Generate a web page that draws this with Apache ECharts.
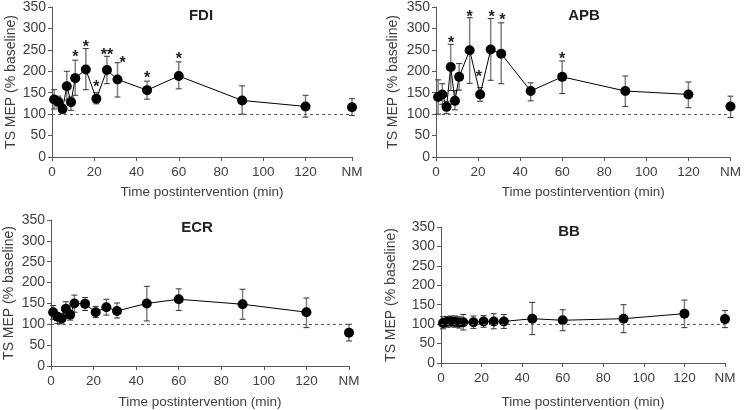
<!DOCTYPE html>
<html>
<head>
<meta charset="utf-8">
<script src="https://cdn.jsdelivr.net/npm/echarts@6/dist/echarts.min.js"></script>
<style>
  html, body { margin: 0; padding: 0; background: #fff; }
  #chart { width: 744px; height: 410px; }
</style>
</head>
<body>
<div id="chart"></div>
<script>
// time points (min) shared by all muscles; NM is plotted at the far right
const times = [1, 3, 5, 7, 9, 11, 16, 21, 26, 31, 45, 60, 90, 120];
const xTickValues = [0, 20, 40, 60, 80, 100, 120];

// FDI
const fdiMean  = [134, 129, 112, 165, 128, 184, 204, 136, 203, 181, 156, 189, 132, 118];
const fdiUpper = [157, 142, 122, 200, 140, 226, 253, 150, 235, 220, 177, 222, 166, 144];
const fdiLower = [112, 117, 101, 133, 109, 144, 157, 124, 171, 140, 135, 159, 100, 93];
const fdiNM = [116, 97, 136];          // mean, lower, upper
const fdiStars = [[11, 241, '*'], [16, 264, '*'], [21, 171, '*'], [26, 245, '**'], [33.4, 227, '*'], [45, 193, '*'], [60, 237, '*']];

// APB
const apbMean  = [140, 146, 117, 210, 131, 187, 249, 146, 251, 241, 154, 187, 154, 146];
const apbUpper = [180, 171, 130, 263, 155, 218, 325, 162, 323, 313, 173, 224, 189, 175];
const apbLower = [100, 123, 101, 155, 110, 156, 172, 130, 179, 171, 131, 148, 118, 115];
const apbNM = [118, 92, 142];
const apbStars = [[7.2, 274, '*'], [16, 334, '*'], [20.4, 194, '*'], [26.4, 334, '*'], [31.5, 327, '*'], [60, 237, '*']];

// ECR
const ecrMean  = [129, 118, 114, 137, 123, 150, 149, 129, 141, 132, 150, 160, 148, 129];
const ecrUpper = [145, 128, 125, 154, 133, 170, 164, 143, 160, 151, 191, 185, 184, 163];
const ecrLower = [112, 102, 101, 122, 110, 129, 133, 116, 122, 115, 108, 133, 112, 92];
const ecrNM = [80, 60, 100];
const ecrStars = [];

// BB
const bbMean  = [103, 106, 107, 106, 104, 105, 105, 107, 107, 107, 114, 110, 114, 127];
const bbUpper = [119, 120, 121, 121, 119, 125, 121, 122, 127, 125, 156, 137, 150, 162];
const bbLower = [88, 92, 93, 92, 90, 85, 89, 92, 88, 89, 73, 83, 78, 91];
const bbNM = [113, 91, 135];
const bbStars = [];

const font = "'Liberation Sans', Arial, sans-serif";
const textColor = '#404040';

const panels = [
    { title: 'FDI', mean: fdiMean, upper: fdiUpper, lower: fdiLower, nm: fdiNM, stars: fdiStars,
      nmX: 142, grid: { left: 52, top: 7, width: 300, height: 150 }, titlePos: [196, 3], yGap: 34, xGap: 28 },
    { title: 'APB', mean: apbMean, upper: apbUpper, lower: apbLower, nm: apbNM, stars: apbStars,
      nmX: 140, grid: { left: 436, top: 7, width: 300, height: 150 }, titlePos: [579, 3], yGap: 36, xGap: 28 },
    { title: 'ECR', mean: ecrMean, upper: ecrUpper, lower: ecrLower, nm: ecrNM, stars: ecrStars,
      nmX: 140, grid: { left: 51, top: 220, width: 298, height: 151 }, titlePos: [192, 215], yGap: 35, xGap: 29 },
    { title: 'BB', mean: bbMean, upper: bbUpper, lower: bbLower, nm: bbNM, stars: bbStars,
      nmX: 140, grid: { left: 441, top: 227, width: 284, height: 140 }, titlePos: [564, 219], yGap: 43, xGap: 32 }
];

function errorBar(params, api) {
    const x = api.value(0);
    const lo = api.coord([x, api.value(1)]);
    const hi = api.coord([x, api.value(2)]);
    const w = 3;
    return {
        type: 'group',
        children: [
            { type: 'line', shape: { x1: lo[0], y1: lo[1], x2: hi[0], y2: hi[1] }, style: { stroke: '#808080', lineWidth: 1.5 } },
            { type: 'line', shape: { x1: hi[0] - w, y1: hi[1], x2: hi[0] + w, y2: hi[1] }, style: { stroke: '#333', lineWidth: 1 } },
            { type: 'line', shape: { x1: lo[0] - w, y1: lo[1], x2: lo[0] + w, y2: lo[1] }, style: { stroke: '#333', lineWidth: 1 } }
        ]
    };
}

function starMark(params, api) {
    const p = api.coord([api.value(0), api.value(1)]);
    return {
        type: 'text',
        x: p[0], y: p[1] + 4,
        style: { text: api.value(2), font: 'bold 16px ' + font, fill: '#222', align: 'center', verticalAlign: 'middle' }
    };
}

const option = { animation: false, title: [], grid: [], xAxis: [], yAxis: [], series: [] };

panels.forEach((p, i) => {
    option.title.push({
        text: p.title, left: p.titlePos[0], top: p.titlePos[1], textAlign: 'center',
        textStyle: { fontSize: 15, fontWeight: 'bold', color: '#222', fontFamily: font }
    });
    option.grid.push(p.grid);
    const xVals = xTickValues.concat([p.nmX]);
    option.xAxis.push({
        gridIndex: i, type: 'value', min: 0, max: p.nmX,
        name: 'Time postintervention (min)', nameLocation: 'middle', nameGap: p.xGap,
        nameTextStyle: { fontSize: 13.5, color: textColor, fontFamily: font },
        axisLine: { lineStyle: { color: '#595959', width: 1 } },
        axisTick: { show: true, length: 4, customValues: xVals, lineStyle: { color: '#595959' } },
        axisLabel: { customValues: xVals, fontSize: 13.5, color: textColor, fontFamily: font, margin: 8,
            formatter: v => (v === p.nmX ? 'NM' : String(v)) },
        splitLine: { show: false }
    });
    option.yAxis.push({
        gridIndex: i, type: 'value', min: 0, max: 350, interval: 50,
        name: 'TS MEP (% baseline)', nameLocation: 'middle', nameGap: p.yGap,
        nameTextStyle: { fontSize: 14, color: textColor, fontFamily: font },
        axisLine: { show: true, lineStyle: { color: '#595959', width: 1 } },
        axisTick: { show: true, length: 4, lineStyle: { color: '#595959' } },
        axisLabel: { fontSize: 14, color: textColor, fontFamily: font, margin: 6 },
        splitLine: { show: false }
    });

    const bars = p.mean.map((m, k) => [times[k], p.lower[k], p.upper[k]]);
    bars.push([p.nmX, p.nm[1], p.nm[2]]);
    option.series.push({
        type: 'custom', xAxisIndex: i, yAxisIndex: i, renderItem: errorBar, data: bars, z: 2, silent: true
    });
    option.series.push({
        type: 'line', xAxisIndex: i, yAxisIndex: i, z: 3,
        data: p.mean.map((m, k) => [times[k], m]),
        symbol: 'circle', symbolSize: 10, showAllSymbol: true,
        itemStyle: { color: '#000', opacity: 1 }, lineStyle: { color: '#000', width: 1 },
        markLine: {
            silent: true, symbol: 'none', label: { show: false },
            lineStyle: { color: '#595959', type: [3, 3], width: 1.2 },
            data: [{ yAxis: 100 }]
        }
    });
    option.series.push({
        type: 'scatter', xAxisIndex: i, yAxisIndex: i, z: 3,
        data: [[p.nmX, p.nm[0]]], symbol: 'circle', symbolSize: 10, itemStyle: { color: '#000', opacity: 1 }
    });
    if (p.stars.length) {
        option.series.push({
            type: 'custom', xAxisIndex: i, yAxisIndex: i, renderItem: starMark, data: p.stars, z: 4, silent: true
        });
    }
});

const chart = echarts.init(document.getElementById('chart'));
chart.setOption(option);
</script>
</body>
</html>
